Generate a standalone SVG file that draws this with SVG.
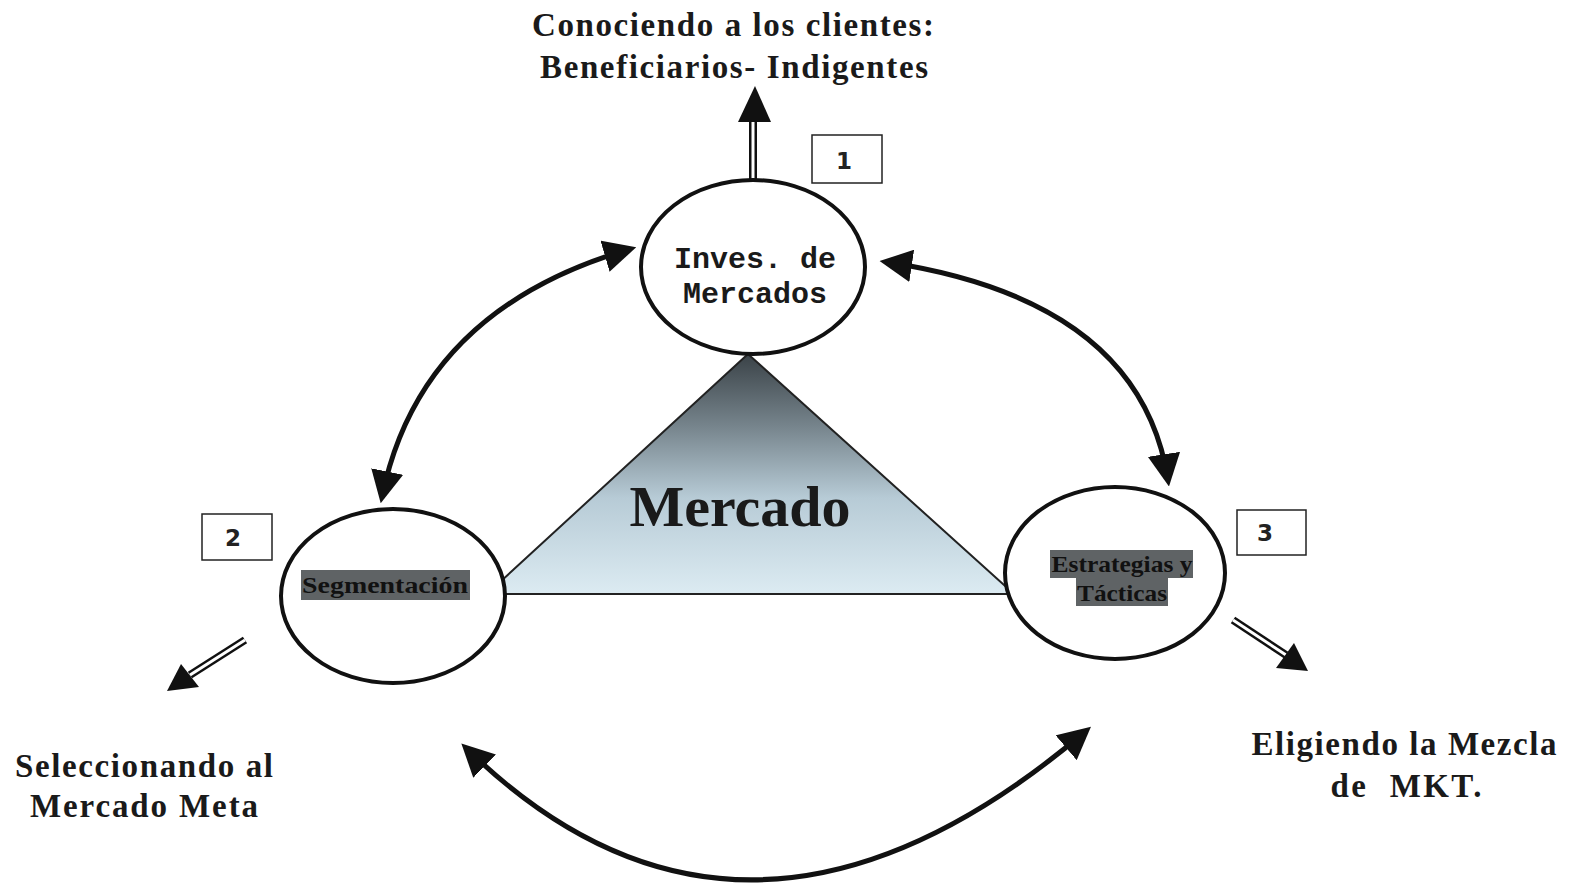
<svg xmlns="http://www.w3.org/2000/svg" width="1575" height="884" viewBox="0 0 1575 884">
<style>
.lbl{font-family:"Liberation Serif","Times New Roman",serif;font-weight:bold;fill:#1a1a1a;text-anchor:middle}
.big{font-size:33px}
.mono{font-family:"Liberation Mono","Courier New",monospace;font-weight:bold;font-size:30px;fill:#1a1a1a;text-anchor:middle}
.node{fill:#fff;stroke:#111;stroke-width:4}
.num{fill:#fff;stroke:#222;stroke-width:1.5}
.numt{font-family:"DejaVu Sans","Liberation Sans",sans-serif;font-weight:bold;font-size:23px;fill:#222;text-anchor:middle}
.conn{fill:none;stroke:#111;stroke-width:5;marker-start:url(#ah);marker-end:url(#ah)}
.dbl{stroke:#111;stroke-width:8;fill:none}
.dblin{stroke:#fff;stroke-width:3;fill:none}
.hl{fill:#5f6365}
.ntx{font-family:"Liberation Serif","Times New Roman",serif;font-weight:bold;font-size:23px;fill:#111;text-anchor:middle}
</style>
<defs>
<marker id="ah" viewBox="0 0 10 10" refX="8" refY="5" markerWidth="6.5" markerHeight="6.5" orient="auto-start-reverse" markerUnits="strokeWidth">
<path d="M0,0 L10,5 L0,10 z" fill="#111"/>
</marker>
<linearGradient id="tri" x1="0" y1="0" x2="0" y2="1">
<stop offset="0" stop-color="#3a4247"/>
<stop offset="0.3" stop-color="#76848c"/>
<stop offset="0.6" stop-color="#b7cbd6"/>
<stop offset="1" stop-color="#dcebf2"/>
</linearGradient>
</defs>
<rect width="1575" height="884" fill="#fff"/>

<g id="triangle">
<polygon points="748,354 487,594 1014,594" fill="url(#tri)" stroke="#222" stroke-width="2"/>
<text x="740" y="526" class="lbl" style="font-size:58px">Mercado</text>
</g>

<g id="connectors">
<path class="conn" d="M630,249 Q420,310 382,497"/>
<path class="conn" d="M886,262 Q1140,300 1168,480"/>
<path class="conn" d="M466,748 Q745,1020 1086,731"/>
<g id="up-arrow">
<line class="dbl" x1="753" y1="180" x2="753" y2="118"/>
<line class="dblin" x1="753" y1="180" x2="753" y2="118"/>
<polygon points="755,86 738,122 771,122" fill="#111"/>
</g>
<g id="left-arrow">
<line class="dbl" x1="245" y1="640" x2="190" y2="675"/>
<line class="dblin" x1="245" y1="640" x2="190" y2="675"/>
<polygon points="167,691 181,664 199,687" fill="#111"/>
</g>
<g id="right-arrow">
<line class="dbl" x1="1233" y1="620" x2="1286" y2="655"/>
<line class="dblin" x1="1233" y1="620" x2="1286" y2="655"/>
<polygon points="1308,671 1276,668 1294,643" fill="#111"/>
</g>
</g>

<g id="node-inves">
<ellipse class="node" cx="753" cy="267" rx="112" ry="87"/>
<text x="755" y="268" class="mono">Inves. de</text>
<text x="755" y="303" class="mono">Mercados</text>
</g>

<g id="node-segmentacion">
<ellipse class="node" cx="393" cy="596" rx="112" ry="87"/>
<rect class="hl" x="301" y="570" width="169" height="30"/>
<text x="385" y="593" class="ntx" textLength="166" lengthAdjust="spacingAndGlyphs">Segmentación</text>
</g>

<g id="node-estrategias">
<ellipse class="node" cx="1115" cy="573" rx="110" ry="86"/>
<rect class="hl" x="1050" y="550" width="143" height="28"/>
<rect class="hl" x="1076" y="578" width="92" height="28"/>
<text x="1122" y="572" class="ntx" textLength="141" lengthAdjust="spacingAndGlyphs">Estrategias y</text>
<text x="1122" y="601" class="ntx" textLength="90" lengthAdjust="spacingAndGlyphs">Tácticas</text>
</g>

<g id="box1"><rect class="num" x="812" y="135" width="70" height="48"/><text x="844" y="169" class="numt">1</text></g>
<g id="box2"><rect class="num" x="202" y="514" width="70" height="46"/><text x="233" y="546" class="numt">2</text></g>
<g id="box3"><rect class="num" x="1237" y="510" width="69" height="45"/><text x="1265" y="541" class="numt">3</text></g>

<g id="label-top">
<text x="733" y="36" class="lbl big" textLength="402" lengthAdjust="spacing">Conociendo a los clientes:</text>
<text x="734" y="78" class="lbl big" textLength="388" lengthAdjust="spacing">Beneficiarios- Indigentes</text>
</g>
<g id="label-left">
<text x="144" y="777" class="lbl big" textLength="258" lengthAdjust="spacing">Seleccionando al</text>
<text x="144" y="817" class="lbl big" textLength="228" lengthAdjust="spacing">Mercado Meta</text>
</g>
<g id="label-right">
<text x="1404" y="755" class="lbl big" textLength="305" lengthAdjust="spacing">Eligiendo la Mezcla</text>
<text x="1406" y="797" class="lbl big" textLength="151" lengthAdjust="spacing" xml:space="preserve">de  MKT.</text>
</g>
</svg>
